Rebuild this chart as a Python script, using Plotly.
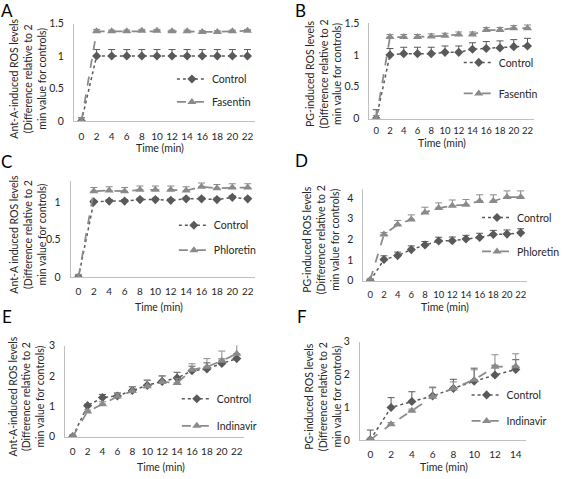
import plotly.graph_objects as go

W, H = 565, 479

# ---------------- data ----------------
time_22 = [0, 2, 4, 6, 8, 10, 12, 14, 16, 18, 20, 22]
time_14 = [0, 2, 4, 6, 8, 10, 12, 14]

a_control = [0, 1.0, 1.0, 1.0, 1.0, 1.0, 1.0, 1.0, 1.0, 1.0, 1.0, 1.0]
a_control_err = [0.05, 0.1, 0.1, 0.1, 0.1, 0.1, 0.1, 0.1, 0.1, 0.1, 0.1, 0.1]
a_fasentin = [0, 1.38, 1.38, 1.38, 1.39, 1.39, 1.38, 1.38, 1.37, 1.37, 1.38, 1.39]
a_fasentin_err = [0.05, 0.03, 0.02, 0.02, 0.02, 0.02, 0.02, 0.02, 0.02, 0.02, 0.02, 0.02]

b_control = [0, 1.0, 1.02, 1.02, 1.02, 1.04, 1.04, 1.09, 1.1, 1.11, 1.13, 1.14]
b_control_err = [0.14, 0.1, 0.1, 0.1, 0.1, 0.1, 0.1, 0.1, 0.11, 0.11, 0.11, 0.12]
b_fasentin = [0, 1.28, 1.28, 1.28, 1.29, 1.3, 1.32, 1.32, 1.39, 1.39, 1.42, 1.42]
b_fasentin_err = [0.05, 0.04, 0.04, 0.04, 0.04, 0.04, 0.04, 0.04, 0.04, 0.04, 0.04, 0.05]

c_control = [0, 1.0, 1.01, 1.01, 1.03, 1.03, 1.02, 1.04, 1.04, 1.03, 1.06, 1.04]
c_control_err = [0.03, 0.02, 0.02, 0.02, 0.02, 0.02, 0.02, 0.02, 0.02, 0.02, 0.02, 0.02]
c_phloretin = [0, 1.14, 1.15, 1.14, 1.16, 1.16, 1.16, 1.15, 1.2, 1.18, 1.19, 1.19]
c_phloretin_err = [0.04, 0.05, 0.05, 0.05, 0.05, 0.05, 0.05, 0.05, 0.05, 0.05, 0.05, 0.05]

d_control = [0, 1.02, 1.21, 1.5, 1.72, 1.92, 1.93, 2.01, 2.09, 2.23, 2.25, 2.31]
d_control_err = [0.05, 0.18, 0.17, 0.18, 0.17, 0.18, 0.18, 0.18, 0.2, 0.2, 0.2, 0.2]
d_phloretin = [0.05, 2.23, 2.71, 2.96, 3.3, 3.51, 3.62, 3.67, 3.85, 3.85, 4.04, 4.04]
d_phloretin_err = [0.05, 0.1, 0.2, 0.22, 0.25, 0.25, 0.28, 0.25, 0.3, 0.3, 0.3, 0.3]

e_control = [0, 1.02, 1.29, 1.34, 1.52, 1.69, 1.82, 1.93, 2.17, 2.23, 2.41, 2.57]
e_control_err = [0.05, 0.05, 0.1, 0.1, 0.12, 0.17, 0.18, 0.19, 0.15, 0.2, 0.15, 0.15]
e_indinavir = [0, 0.83, 1.07, 1.32, 1.5, 1.66, 1.8, 1.77, 2.2, 2.3, 2.5, 2.73]
e_indinavir_err = [0.05, 0.05, 0.08, 0.1, 0.15, 0.2, 0.2, 0.15, 0.2, 0.27, 0.32, 0.3]

f_control = [0, 0.99, 1.17, 1.34, 1.57, 1.79, 1.98, 2.15]
f_control_err = [0.3, 0.3, 0.3, 0.27, 0.28, 0.4, 0.3, 0.3]
f_indinavir = [0, 0.48, 0.89, 1.32, 1.57, 1.84, 2.23, 2.25]
f_indinavir_err = [0.05, 0.05, 0.05, 0.27, 0.2, 0.3, 0.37, 0.38]

title_ant = "Ant-A-induced ROS levels<br>(Difference relative to 2<br>min value for controls)"
title_ant_c = "Ant-A induced ROS levels<br>(Difference relative to 2<br>min value for controls)"
title_pg = "PG-induced ROS levels<br>(Difference relative to 2<br>min value for controls)"

# ---------------- style ----------------
FONT = "Lato"
TXT = "#262626"
AXC = "#bfbfbf"
C_CTRL = "#595959"
C_TRT = "#8a8a8a"


def px_x(p):
    return p / W


def px_y(p):
    return 1 - p / H


panels = [
    dict(letter="A", t=time_22, c=a_control, ce=a_control_err, tr=a_fasentin, te=a_fasentin_err, name="Fasentin",
         xd=(75.3, 259.6), yd=(118, 18), xr=[-1, 23], yr=[0, 1.5], yt=[0, 0.5, 1, 1.5], ytl=["0", "0.5", "1", "1.5"],
         ytitle=title_ant, ytc=(28, 75), xtc=(163, 146), lp=(7, 5), leg=(175, 60), gap=4, xso=6, xfs=10),
    dict(letter="B", t=time_22, c=b_control, ce=b_control_err, tr=b_fasentin, te=b_fasentin_err, name="Fasentin",
         xd=(376, 544), yd=(115.5, 17.5), xr=[-1, 23], yr=[0, 1.5], yt=[0, 0.5, 1, 1.5], ytl=["0", "0.5", "1", "1.5"],
         ytitle=title_pg, ytc=(329, 70), xtc=(450, 141), lp=(306, 5), leg=(467, 43), gap=12, xso=3, xfs=9.5),
    dict(letter="C", t=time_22, c=c_control, ce=c_control_err, tr=c_phloretin, te=c_phloretin_err, name="Phloretin",
         xd=(72, 260), yd=(278.3, 180), xr=[-1, 23], yr=[0, 1.27], yt=[0, 0.5, 1], ytl=["0", "0.5", "1"],
         ytitle=title_ant_c, ytc=(28, 234), xtc=(162, 309), lp=(7, 160), leg=(177, 210), gap=6, xso=5, xfs=10),
    dict(letter="D", t=time_22, c=d_control, ce=d_control_err, tr=d_phloretin, te=d_phloretin_err, name="Phloretin",
         xd=(370, 537), yd=(281.7, 187.3), xr=[-1, 23], yr=[0, 4.45], yt=[0, 1, 2, 3, 4], ytl=["0", "1", "2", "3", "4"],
         ytitle=title_pg, ytc=(327, 240), xtc=(453, 309), lp=(307, 158), leg=(486, 202), gap=15, xso=5, xfs=9.5),
    dict(letter="E", t=time_22, c=e_control, ce=e_control_err, tr=e_indinavir, te=e_indinavir_err, name="Indinavir",
         xd=(66.4, 248.6), yd=(441.7, 348.3), xr=[-1, 23], yr=[0, 3], yt=[0, 1, 2, 3], ytl=["0", "1", "2", "3"],
         ytitle=title_ant, ytc=(27, 401), xtc=(164, 473), lp=(7, 318), leg=(180, 388), gap=8, xso=5, xfs=10),
    dict(letter="F", t=time_14, c=f_control, ce=f_control_err, tr=f_indinavir, te=f_indinavir_err, name="Indinavir",
         xd=(366.4, 535.6), yd=(445, 344.3), xr=[-1, 15], yr=[0, 3], yt=[0, 1, 2, 3], ytl=["0", "1", "2", "3"],
         ytitle=title_pg, ytc=(329, 401), xtc=(452, 473), lp=(307, 318), leg=(475, 384), gap=7, xso=5, xfs=10),
]

fig = go.Figure()
annotations = []
layout_extra = {}

for i, p in enumerate(panels):
    k = "" if i == 0 else str(i + 1)
    xa, ya = "x" + k, "y" + k
    lg = "legend" + k
    n = len(p["t"])
    fig.add_trace(go.Scatter(
        x=p["t"], y=p["c"], name="Control", xaxis=xa, yaxis=ya, legend=lg, legendgroup=lg + "c",
        mode="lines+markers", line=dict(color=C_CTRL, width=1.5, dash="dot"),
        marker=dict(symbol="diamond", size=7, color=C_CTRL),
        error_y=dict(type="data", symmetric=False, array=p["ce"], arrayminus=[0] * n,
                     color=C_CTRL, thickness=1, width=3.5),
    ))
    fig.add_trace(go.Scatter(
        x=p["t"], y=p["tr"], name=p["name"], xaxis=xa, yaxis=ya, legend=lg, legendgroup=lg + "t",
        mode="lines+markers", line=dict(color=C_TRT, width=1.75, dash="dash"),
        marker=dict(symbol="triangle-up", size=8, color=C_TRT),
        error_y=dict(type="data", symmetric=False, array=p["te"], arrayminus=[0] * n,
                     color=C_TRT, thickness=1, width=3.5),
    ))
    layout_extra["xaxis" + k] = dict(
        domain=[px_x(p["xd"][0]), px_x(p["xd"][1])], range=p["xr"], anchor=ya,
        tickvals=p["t"], ticktext=[str(v) for v in p["t"]], tickangle=0,
        showline=True, linecolor=AXC, linewidth=1, showgrid=False, zeroline=False,
        ticks="", ticklabelstandoff=p["xso"], tickfont=dict(family=FONT, size=p["xfs"], color=TXT),
    )
    layout_extra["yaxis" + k] = dict(
        domain=[px_y(p["yd"][0]), px_y(p["yd"][1])], range=p["yr"], anchor=xa,
        tickvals=p["yt"], ticktext=p["ytl"],
        showline=True, linecolor=AXC, linewidth=1, showgrid=False, zeroline=False,
        ticks="", ticklabelstandoff=7, tickfont=dict(family=FONT, size=10.5, color=TXT),
    )
    layout_extra[lg] = dict(
        x=px_x(p["leg"][0]), y=px_y(p["leg"][1]), xanchor="left", yanchor="top",
        bgcolor="rgba(0,0,0,0)", borderwidth=0, tracegroupgap=p["gap"],
        font=dict(family=FONT, size=10.5, color=TXT), itemclick=False, itemdoubleclick=False,
    )
    annotations.append(dict(
        text=p["ytitle"], x=px_x(p["ytc"][0]), y=px_y(p["ytc"][1]), xref="paper", yref="paper",
        xanchor="center", yanchor="middle", textangle=-90, showarrow=False,
        font=dict(family=FONT, size=10.5, color=TXT),
    ))
    annotations.append(dict(
        text="Time (min)", x=px_x(p["xtc"][0]), y=px_y(p["xtc"][1]), xref="paper", yref="paper",
        xanchor="center", yanchor="middle", showarrow=False,
        font=dict(family=FONT, size=10.5, color=TXT),
    ))
    annotations.append(dict(
        text=p["letter"], x=px_x(p["lp"][0]), y=px_y(p["lp"][1]), xref="paper", yref="paper",
        xanchor="center", yanchor="middle", showarrow=False,
        font=dict(family=FONT, size=17, color="#000000"),
    ))

fig.update_layout(
    width=W, height=H, margin=dict(l=0, r=0, t=0, b=0),
    paper_bgcolor="white", plot_bgcolor="white",
    showlegend=True, annotations=annotations, **layout_extra,
)

fig.write_html(
    "out.html",
    config={"displayModeBar": False},
    post_script="document.body.style.margin='0';document.body.style.overflow='hidden';",
)
